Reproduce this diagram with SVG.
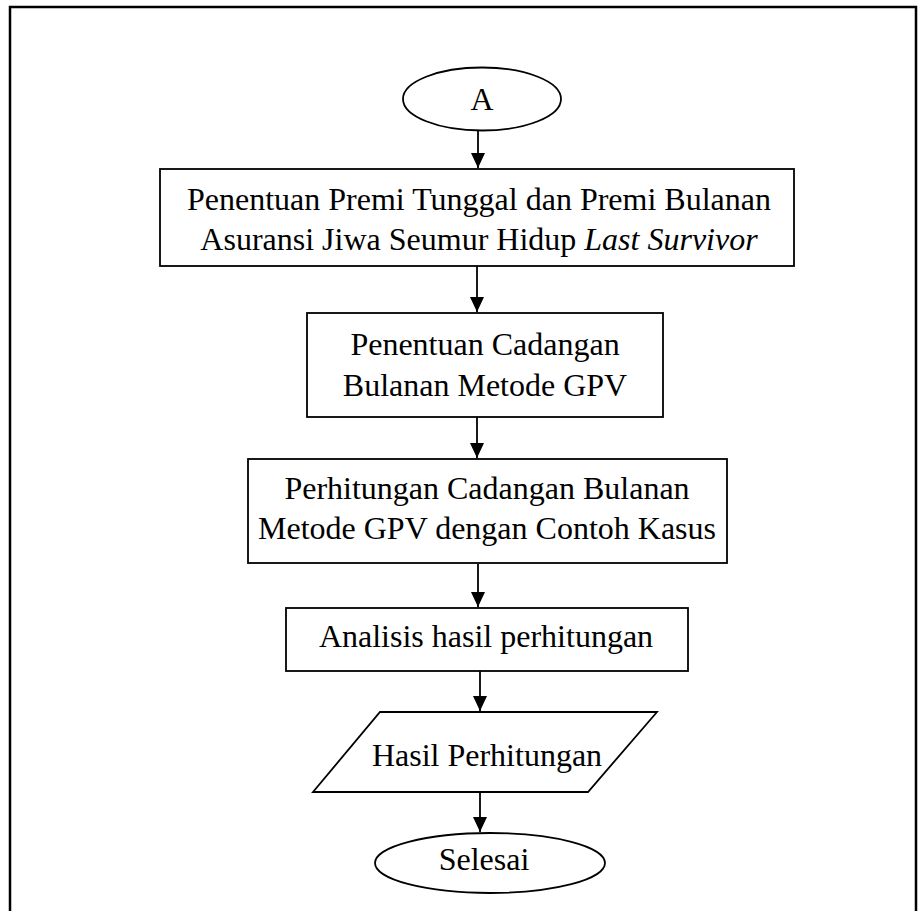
<svg xmlns="http://www.w3.org/2000/svg" width="921" height="911" viewBox="0 0 921 911">
<style>
.s{fill:#fff;stroke:#000;stroke-width:1.8}
.t{font-family:"Liberation Serif","Times New Roman",serif;font-size:32px;fill:#000;text-anchor:middle}
.c{stroke:#000;stroke-width:1.8;fill:none}
</style>
<defs>
<marker id="ah" markerUnits="userSpaceOnUse" markerWidth="16" markerHeight="16" viewBox="0 0 16 16" refX="15" refY="8" orient="auto">
<path d="M0,1 L15,8 L0,15 Z" fill="#000"/>
</marker>
</defs>
<rect x="0" y="0" width="921" height="911" fill="#fff"/>
<path d="M10,911 V7 H916 V911" fill="none" stroke="#000" stroke-width="2.5"/>
<g id="connectors">
<line class="c" x1="478" y1="131" x2="478" y2="168" marker-end="url(#ah)"/>
<line class="c" x1="477" y1="266" x2="477" y2="312" marker-end="url(#ah)"/>
<line class="c" x1="477" y1="417" x2="477" y2="458" marker-end="url(#ah)"/>
<line class="c" x1="478" y1="564" x2="478" y2="607" marker-end="url(#ah)"/>
<line class="c" x1="480" y1="671" x2="480" y2="711" marker-end="url(#ah)"/>
<line class="c" x1="480" y1="792" x2="480" y2="832" marker-end="url(#ah)"/>
</g>
<g id="start">
<ellipse class="s" cx="482" cy="99" rx="79" ry="31.5"/>
<text class="t" x="482" y="110">A</text>
</g>
<g id="premi">
<rect class="s" x="160" y="169" width="634" height="97"/>
<text class="t" x="479" y="210">Penentuan Premi Tunggal dan Premi Bulanan</text>
<text class="t" x="479" y="250">Asuransi Jiwa Seumur Hidup <tspan font-style="italic">Last Survivor</tspan></text>
</g>
<g id="cadangan">
<rect class="s" x="307" y="313" width="356" height="104"/>
<text class="t" x="485" y="355">Penentuan Cadangan</text>
<text class="t" x="485" y="396">Bulanan Metode GPV</text>
</g>
<g id="perhitungan">
<rect class="s" x="248" y="459" width="479" height="104"/>
<text class="t" x="487" y="499">Perhitungan Cadangan Bulanan</text>
<text class="t" x="487" y="539">Metode GPV dengan Contoh Kasus</text>
</g>
<g id="analisis">
<rect class="s" x="286" y="608" width="402" height="63"/>
<text class="t" x="486" y="647">Analisis hasil perhitungan</text>
</g>
<g id="hasil">
<polygon class="s" points="380,712 657,712 588,792 313,792"/>
<text class="t" x="487" y="766">Hasil Perhitungan</text>
</g>
<g id="selesai">
<ellipse class="s" cx="490" cy="863" rx="115" ry="30"/>
<text class="t" x="484" y="870">Selesai</text>
</g>
</svg>
